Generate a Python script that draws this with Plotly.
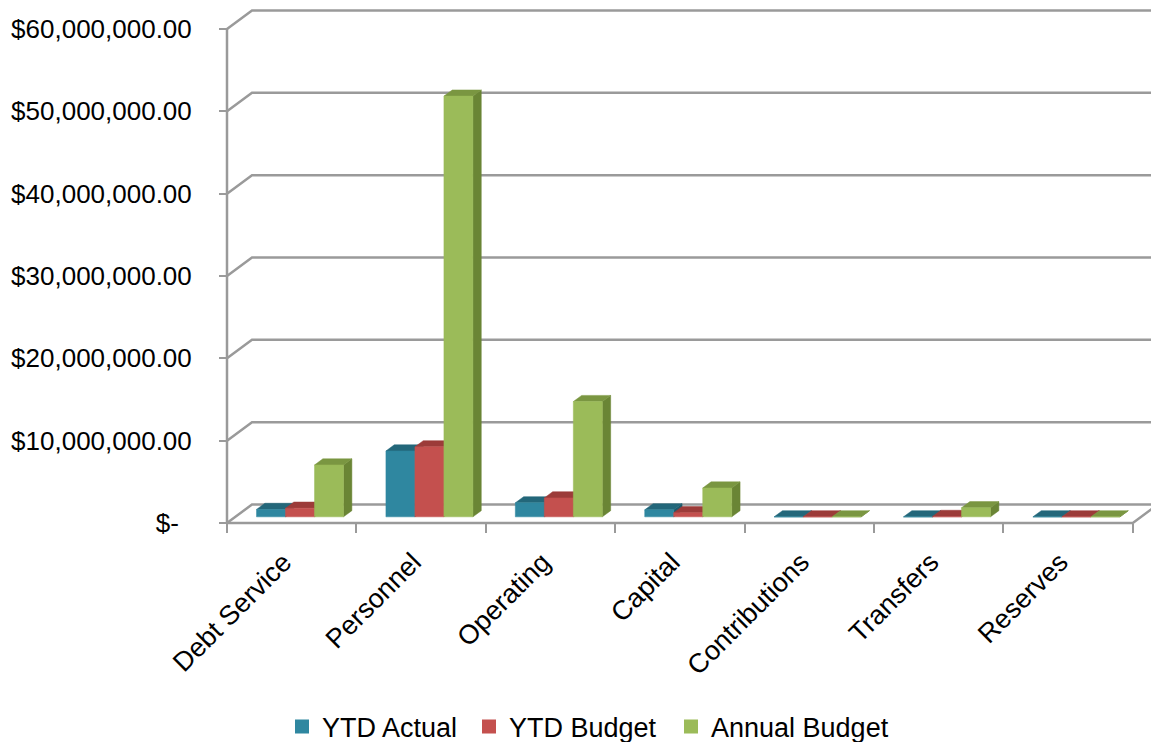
import plotly.graph_objects as go

# ---- data -------------------------------------------------------------
categories = ["Debt Service", "Personnel", "Operating", "Capital",
              "Contributions", "Transfers", "Reserves"]
ytd_actual = [0.9e6, 8.0e6, 1.7e6, 0.85e6, 0.0, 0.0, 0.0]
ytd_budget = [1.05e6, 8.5e6, 2.3e6, 0.5e6, 0.0, 0.05e6, 0.0]
annual_budget = [6.3e6, 51.1e6, 14.0e6, 3.5e6, 0.0, 1.1e6, 0.0]

y_ticks = [0, 10e6, 20e6, 30e6, 40e6, 50e6, 60e6]
y_tick_text = ["$-\u2002", "$10,000,000.00", "$20,000,000.00", "$30,000,000.00",
               "$40,000,000.00", "$50,000,000.00", "$60,000,000.00"]

series_names = ["YTD Actual", "YTD Budget", "Annual Budget"]
series_values = [ytd_actual, ytd_budget, annual_budget]
# front / top / right-side shades for each series
front_colors = ["#2F87A0", "#C4504E", "#9BBB59"]
top_colors = ["#23677A", "#9C3B39", "#7A9641"]
side_colors = ["#1F5B6C", "#8C3432", "#6A8535"]

# ---- geometry of the pseudo-3D frame ------------------------------------
W, H = 1151, 742
L, R, T, B = 217, 1151, 2, 533          # plot area in pixels
FRONT_X, FRONT_Y = 227, 523             # front-left corner of the floor
PX_PER_CAT = 129.4                      # pixels per category
PX_PER_UNIT = 494 / 60e6                # pixels per dollar
DEPTH_PX = (25, 18.5)                   # wall offset (right, up)

x_lo = -0.5 - (FRONT_X - L) / PX_PER_CAT
x_hi = -0.5 + (R - FRONT_X) / PX_PER_CAT
y_lo = -(B - FRONT_Y) / PX_PER_UNIT
y_hi = (FRONT_Y - T) / PX_PER_UNIT

dxw = DEPTH_PX[0] / PX_PER_CAT          # wall depth in category units
dyw = DEPTH_PX[1] / PX_PER_UNIT         # wall depth in value units
n = len(categories)
x_left, x_right = -0.5, n - 0.5

GRID = "#9A9A9A"
fig = go.Figure()

# back wall gridlines with their diagonal returns to the front axis
gx, gy = [], []
for v in y_ticks:
    gx += [x_left, x_left + dxw, x_hi + 1, None]
    gy += [v, v + dyw, v + dyw, None]
# floor: front edge, right return, and front vertical axis line
gx += [x_left, x_right, x_right + dxw, None, x_left, x_left, None]
gy += [0, 0, dyw, None, 0, y_ticks[-1], None]
fig.add_trace(go.Scatter(x=gx, y=gy, mode="lines", showlegend=False,
                         hoverinfo="skip",
                         line=dict(color=GRID, width=2.5)))

# 3D columns: each bar sits in the middle third of the depth
bw = 29 / PX_PER_CAT
fx, fy = dxw / 3, dyw / 3               # front face offset from the front plane
ddx, ddy = dxw / 3, dyw / 3             # bar depth


def closed(xs, ys, px, py):
    xs += px + [px[0], None]
    ys += py + [py[0], None]


for i, vals in enumerate(series_values):
    sx, sy, tx, ty, qx, qy = [], [], [], [], [], []
    for k, v in enumerate(vals):
        x0 = k - 1.5 * bw + i * bw + fx
        x1 = x0 + bw
        y0 = fy
        y1 = fy + v
        closed(sx, sy, [x1, x1 + ddx, x1 + ddx, x1], [y0, y0 + ddy, y1 + ddy, y1])
        closed(tx, ty, [x0, x1, x1 + ddx, x0 + ddx], [y1, y1, y1 + ddy, y1 + ddy])
        closed(qx, qy, [x0, x1, x1, x0], [y0, y0, y1, y1])
    for xs, ys, col in ((sx, sy, side_colors[i]), (tx, ty, top_colors[i]),
                        (qx, qy, front_colors[i])):
        fig.add_trace(go.Scatter(x=xs, y=ys, mode="lines", fill="toself",
                                 fillcolor=col, line=dict(color=col, width=0.5),
                                 showlegend=False, hoverinfo="skip"))

# legend entries (square swatches), each in its own legend box along the bottom
legend_ids = ["legend", "legend2", "legend3"]
legend_x = [282, 469, 671]
for name, col, lid in zip(series_names, front_colors, legend_ids):
    fig.add_trace(go.Scatter(x=[None], y=[None], name=name, mode="markers",
                             legend=lid,
                             marker=dict(symbol="square", size=14, color=col)))

FONT = "Liberation Sans, Arial, sans-serif"
legend_style = {}
for lid, lx in zip(legend_ids, legend_x):
    legend_style[lid] = dict(orientation="h", xref="container", yref="container",
                             x=lx / W, xanchor="left", y=15 / H, yanchor="middle",
                             font=dict(size=27), itemwidth=30,
                             bgcolor="rgba(0,0,0,0)")

fig.update_layout(
    width=W, height=H,
    margin=dict(l=L, r=W - R, t=T, b=H - B, pad=0),
    paper_bgcolor="white", plot_bgcolor="white",
    font=dict(family=FONT, size=26, color="#000000"),
    showlegend=True,
    hovermode=False,
    xaxis=dict(range=[x_lo, x_hi], showgrid=False, zeroline=False,
               showline=False, tickmode="array",
               tickvals=list(range(n)), ticktext=categories,
               tickangle=-45, ticks="", tickfont=dict(size=27),
               ticklabelstandoff=17, ticklabelshift=-8,
               anchor="free", position=(B - FRONT_Y) / (B - T),
               minor=dict(tickmode="array",
                          tickvals=[k - 0.5 for k in range(n + 1)],
                          ticks="outside", ticklen=9, tickwidth=2,
                          tickcolor=GRID)),
    yaxis=dict(range=[y_lo, y_hi], showgrid=False, zeroline=False,
               showline=False, tickmode="array",
               tickvals=y_ticks, ticktext=y_tick_text,
               ticks="outside", ticklen=8, tickwidth=2, tickcolor=GRID,
               anchor="free", position=(FRONT_X - L) / (R - L),
               ticklabelstandoff=22),
    **legend_style,
)

fig.write_html("out.html")
